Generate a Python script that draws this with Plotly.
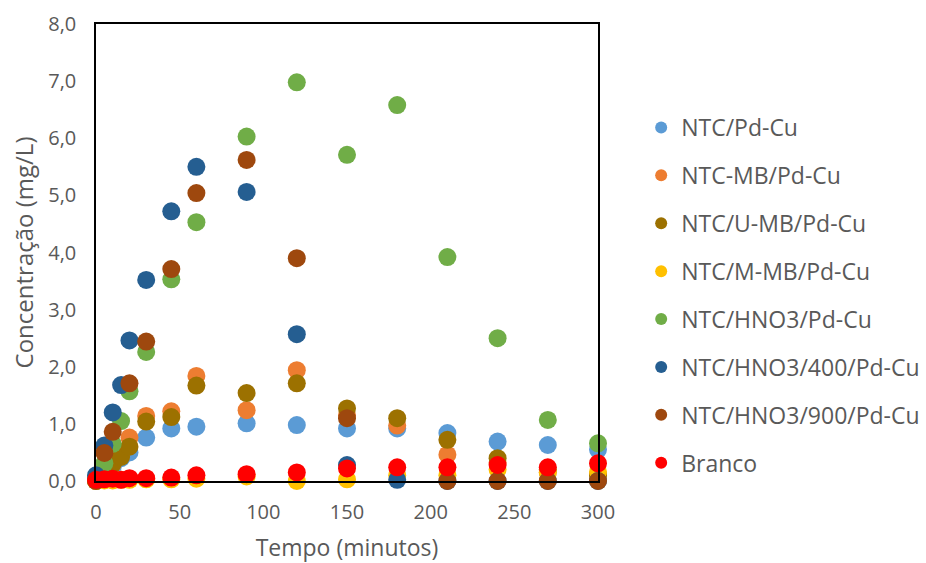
import plotly.graph_objects as go

# Sampling times (minutes)
tempo = [0, 5, 10, 15, 20, 30, 45, 60, 90, 120, 150, 180, 210, 240, 270, 300]

# Concentration (mg/L) for each catalyst
ntc_pdcu = [0.00, 0.15, 0.25, 0.40, 0.50, 0.76, 0.92, 0.95, 1.01, 0.98, 0.92, 0.92, 0.84, 0.69, 0.63, 0.55]
ntc_mb = [0.00, 0.10, 0.30, 0.50, 0.76, 1.14, 1.22, 1.84, 1.24, 1.94, 1.15, 0.97, 0.46, 0.32, 0.15, 0.10]
ntc_umb = [0.00, 0.15, 0.30, 0.42, 0.60, 1.04, 1.12, 1.67, 1.54, 1.71, 1.27, 1.10, 0.72, 0.40, 0.20, 0.10]
ntc_mmb = [0.00, 0.01, 0.01, 0.02, 0.02, 0.03, 0.03, 0.04, 0.08, 0.00, 0.03, 0.10, 0.10, 0.20, 0.15, 0.16]
ntc_hno3 = [0.05, 0.31, 0.65, 1.05, 1.57, 2.26, 3.53, 4.53, 6.03, 6.98, 5.71, 6.58, 3.92, 2.50, 1.07, 0.66]
ntc_hno3_400 = [0.10, 0.62, 1.20, 1.68, 2.46, 3.52, 4.72, 5.50, 5.06, 2.57, 0.28, 0.02, 0.00, 0.00, 0.00, 0.00]
ntc_hno3_900 = [0.00, 0.49, 0.86, None, 1.71, 2.44, 3.71, 5.04, 5.62, 3.90, 1.10, None, 0.00, 0.00, 0.00, 0.00]
branco = [0.02, 0.03, 0.04, 0.02, 0.05, 0.05, 0.06, 0.10, 0.12, 0.15, 0.22, 0.24, 0.24, 0.28, 0.24, 0.31]

series = [
    ("NTC/Pd-Cu", ntc_pdcu, "#5B9BD5"),
    ("NTC-MB/Pd-Cu", ntc_mb, "#ED7D31"),
    ("NTC/U-MB/Pd-Cu", ntc_umb, "#9C7100"),
    ("NTC/M-MB/Pd-Cu", ntc_mmb, "#FFC000"),
    ("NTC/HNO3/Pd-Cu", ntc_hno3, "#70AD47"),
    ("NTC/HNO3/400/Pd-Cu", ntc_hno3_400, "#255E91"),
    ("NTC/HNO3/900/Pd-Cu", ntc_hno3_900, "#9E480E"),
    ("Branco", branco, "#FF0000"),
]

FONT = "Open Sans"
GREY = "#595959"

fig = go.Figure()
for name, values, color in series:
    fig.add_trace(go.Scatter(
        x=tempo, y=values, name=name, mode="markers",
        legendgroup=name,
        marker=dict(size=18, color=color, line=dict(width=0)),
        cliponaxis=False,
    ))

fig.update_layout(
    width=926, height=563,
    margin=dict(l=96, r=328, t=24, b=82, autoexpand=False),
    paper_bgcolor="white", plot_bgcolor="white",
    separators=",.",
    font=dict(family=FONT, color=GREY, size=20),
    showlegend=True,
    legend=dict(
        x=1.086, xanchor="left", y=0.8206, yanchor="top",
        font=dict(family=FONT, size=23, color=GREY),
        traceorder="grouped", tracegroupgap=15,
        itemsizing="constant", bgcolor="rgba(0,0,0,0)",
    ),
)

fig.update_xaxes(
    range=[0, 300], tickvals=[0, 50, 100, 150, 200, 250, 300],
    showgrid=False, zeroline=False,
    showline=True, linecolor="black", linewidth=1.5, mirror=True,
    ticks="", ticklabelstandoff=12,
    tickfont=dict(family=FONT, size=20, color=GREY),
    title=dict(text="Tempo (minutos)", font=dict(family=FONT, size=23, color=GREY), standoff=17),
)
fig.update_yaxes(
    range=[0, 8], dtick=1, tickformat=".1f",
    showgrid=False, zeroline=False,
    showline=True, linecolor="black", linewidth=1.5, mirror=True,
    ticks="", ticklabelstandoff=14,
    tickfont=dict(family=FONT, size=20, color=GREY),
    title=dict(text="Concentração (mg/L)", font=dict(family=FONT, size=24, color=GREY), standoff=8),
)

fig.write_html("out.html")
